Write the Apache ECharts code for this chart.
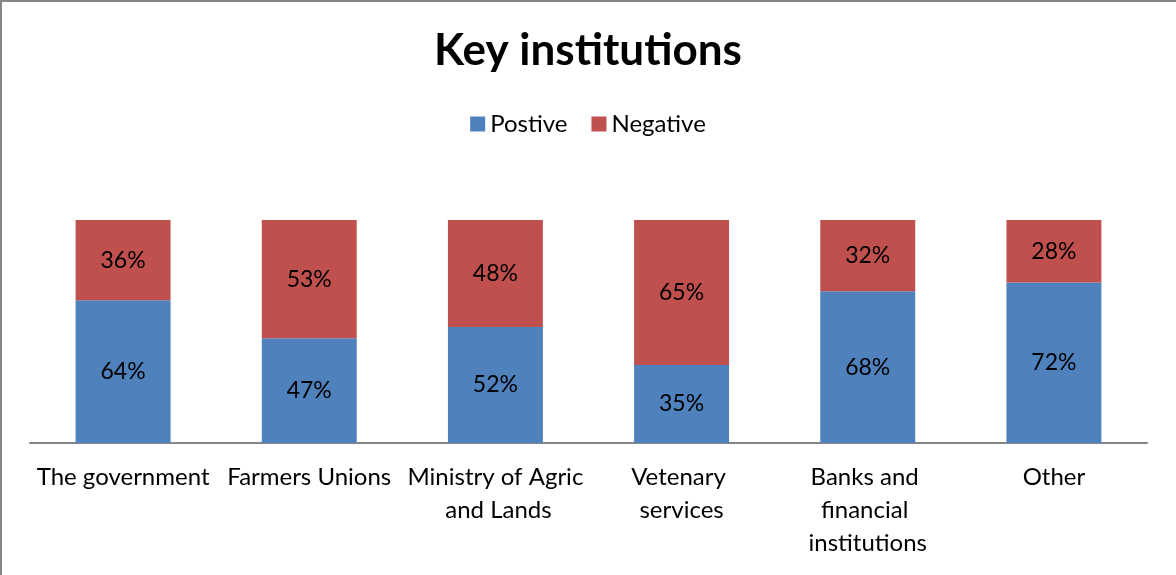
<!DOCTYPE html>
<html>
<head>
<meta charset="utf-8">
<script src="https://cdn.jsdelivr.net/npm/echarts@6/dist/echarts.min.js"></script>
<style>
  html, body { margin: 0; padding: 0; background: #fff; }
  #chart { position: absolute; left: 0; top: 0; width: 1176px; height: 575px; }
  #frame { position: absolute; left: 0; top: 0; width: 1176px; height: 575px; pointer-events: none;
           box-sizing: border-box; border-left: 2px solid #868686; border-top: 2px solid #868686; }
</style>
</head>
<body>
<div id="chart"></div>
<div id="frame"></div>
<script>
// Share of respondents rating each institution, in percent
const categories = ['The government', 'Farmers Unions', 'Ministry of Agric and Lands',
                    'Vetenary services', 'Banks and financial institutions', 'Other'];
const positive = [64, 47, 52, 35, 68, 72];
const negative = [36, 53, 48, 65, 32, 28];

const FONT = 'Lato, "Open Sans", sans-serif';
const chart = echarts.init(document.getElementById('chart'), null, { renderer: 'canvas' });

const labelStyle = {
  show: true,
  position: 'inside',
  formatter: p => p.value + '%',
  color: '#000',
  fontFamily: FONT,
  fontSize: 23
};

chart.setOption({
  animation: false,
  backgroundColor: '#fff',
  title: {
    text: 'Key institutions',
    left: 'center',
    top: 24,
    textStyle: { fontFamily: FONT, fontWeight: 'bold', fontSize: 44, color: '#000' }
  },
  legend: {
    top: 107,
    left: 'center',
    itemWidth: 15,
    itemHeight: 15,
    itemGap: 24,
    icon: 'rect',
    textStyle: { fontFamily: FONT, fontSize: 24, color: '#000' },
    data: ['Postive', 'Negative']
  },
  grid: { left: 30, right: 29, top: 220, bottom: 132, containLabel: false },
  xAxis: {
    type: 'category',
    data: categories,
    axisLine: { lineStyle: { color: '#868686', width: 2 } },
    axisTick: { show: false },
    axisLabel: {
      color: '#000',
      fontFamily: FONT,
      fontSize: 24,
      lineHeight: 33,
      margin: 18,
      interval: 0,
      width: 180,
      overflow: 'break'
    }
  },
  yAxis: {
    type: 'value',
    min: 0,
    max: 100,
    show: false,
    splitLine: { show: false }
  },
  series: [
    {
      name: 'Postive',
      type: 'bar',
      stack: 'total',
      barWidth: '51%',
      itemStyle: { color: '#4F81BD' },
      label: labelStyle,
      data: positive
    },
    {
      name: 'Negative',
      type: 'bar',
      stack: 'total',
      barWidth: '51%',
      itemStyle: { color: '#C0504D' },
      label: labelStyle,
      data: negative
    }
  ]
});
</script>
</body>
</html>
